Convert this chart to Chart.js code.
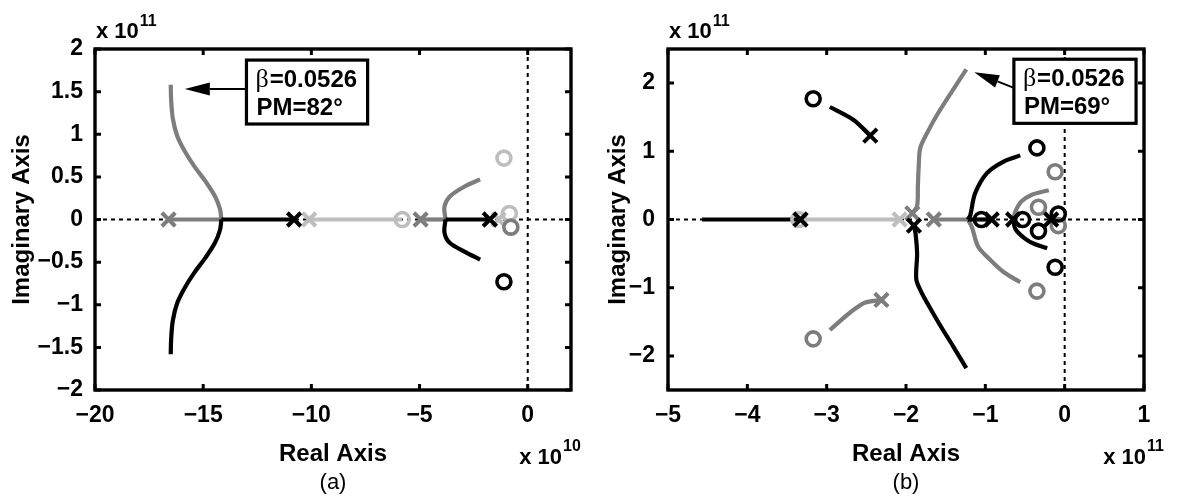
<!DOCTYPE html>
<html>
<head>
<meta charset="utf-8">
<title>Root locus (a) and (b)</title>
<script src="https://cdn.jsdelivr.net/npm/chart.js@4.4.1/dist/chart.umd.min.js"></script>
<style>
  html, body { margin: 0; padding: 0; background: #fff; }
  #wrap { position: relative; width: 1179px; height: 498px; overflow: hidden; }
  .panel { position: absolute; top: 0; height: 498px; }
  #panelA { left: 0; width: 590px; }
  #panelB { left: 590px; width: 589px; }
</style>
</head>
<body>
<div id="wrap">
  <div class="panel" id="panelA"><canvas id="chartA" width="590" height="498"></canvas></div>
  <div class="panel" id="panelB"><canvas id="chartB" width="589" height="498"></canvas></div>
</div>
<script>
// Root locus plots.
// (a): real axis in units of 1e10, imaginary axis in units of 1e11
// (b): both axes in units of 1e11

// --- panel (a) ---
const aXTicks = [-20, -15, -10, -5, 0];
const aXLabels = ["\u221220", "\u221215", "\u221210", "\u22125", "0"];
const aYTicks = [-2, -1.5, -1, -0.5, 0, 0.5, 1, 1.5, 2];
const aYLabels = ["\u22122", "\u22121.5", "\u22121", "\u22120.5", "0", "0.5", "1", "1.5", "2"];

const aGrayAxis = [[-16.6, 0], [-14.16, 0]];
const aGrayCurve = [[-14.16, 0], [-14.22, 0.12], [-14.45, 0.27], [-14.9, 0.45], [-15.4, 0.62],
                    [-15.85, 0.8], [-16.2, 0.98], [-16.4, 1.18], [-16.48, 1.4], [-16.5, 1.58]];
const aBlackAxis = [[-10.8, 0], [-14.16, 0]];
const aBlackCurve = [[-14.16, 0], [-14.22, -0.12], [-14.45, -0.27], [-14.9, -0.45], [-15.4, -0.62],
                     [-15.85, -0.8], [-16.2, -0.98], [-16.4, -1.18], [-16.48, -1.4], [-16.5, -1.58]];
const aLightAxis = [[-10.1, 0], [-5.8, 0]];
const aGray2Axis = [[-4.95, 0], [-3.8, 0]];
const aGray2Curve = [[-3.8, 0], [-3.85, 0.15], [-3.6, 0.27], [-2.9, 0.39], [-2.2, 0.47]];
const aBlack2Axis = [[-1.75, 0], [-3.8, 0]];
const aBlack2Curve = [[-3.8, 0], [-3.85, -0.15], [-3.62, -0.27], [-2.9, -0.38], [-2.2, -0.47]];

const aPolesBlack = [[-10.8, 0], [-1.75, 0]];
const aPolesGray = [[-16.6, 0], [-4.95, 0]];
const aPolesLight = [[-10.1, 0], [-1.35, 0]];
const aZerosBlack = [[-1.1, -0.73]];
const aZerosGray = [[-0.78, -0.09]];
const aZerosLight = [[-5.8, 0], [-0.85, 0.07], [-1.1, 0.72]];

// --- panel (b) ---
const bXTicks = [-5, -4, -3, -2, -1, 0, 1];
const bXLabels = ["\u22125", "\u22124", "\u22123", "\u22122", "\u22121", "0", "1"];
const bYTicks = [-2, -1, 0, 1, 2];
const bYLabels = ["\u22122", "\u22121", "0", "1", "2"];

const bBlackLeft = [[-4.57, 0], [-3.33, 0]];
const bLightLeft = [[-3.33, 0], [-2.08, 0]];
const bGrayUpper = [[-1.92, 0.09], [-1.86, 0.2], [-1.85, 0.5], [-1.84, 0.77], [-1.82, 1.05],
                    [-1.72, 1.3], [-1.6, 1.55], [-1.42, 1.88], [-1.24, 2.2]];
const bBlackLower = [[-1.9, -0.09], [-1.88, -0.2], [-1.86, -0.5], [-1.87, -0.88], [-1.8, -1.08],
                     [-1.72, -1.25], [-1.57, -1.55], [-1.4, -1.87], [-1.24, -2.18]];
const bGrayAxis = [[-1.65, 0], [-1.22, 0]];
const bGrayArc = [[-1.22, 0], [-1.17, -0.11], [-1.09, -0.4], [-0.94, -0.59], [-0.77, -0.77], [-0.56, -0.92]];
const bBlackAxis = [[-1.22, 0], [-0.92, 0]];
const bBlackArc = [[-1.22, 0], [-1.19, 0.06], [-1.13, 0.38], [-0.98, 0.68], [-0.77, 0.85], [-0.56, 0.94]];
const bGraySmall = [[-0.65, 0], [-0.62, 0.12], [-0.55, 0.26], [-0.42, 0.36], [-0.2, 0.43]];
const bBlackSmall = [[-0.65, 0], [-0.62, -0.14], [-0.5, -0.28], [-0.38, -0.36], [-0.22, -0.42]];
const bBlackUL = [[-2.96, 1.65], [-2.66, 1.46], [-2.45, 1.23]];
const bGrayLL = [[-2.96, -1.62], [-2.7, -1.36], [-2.52, -1.22], [-2.31, -1.18]];

const bPolesBlack = [[-3.33, 0], [-1.9, -0.09], [-0.92, 0], [-0.65, 0], [-2.45, 1.23], [-0.17, 0]];
const bPolesGray = [[-1.92, 0.09], [-1.65, 0], [-2.31, -1.18]];
const bPolesLight = [[-2.08, 0]];
const bZerosBlack = [[-3.17, 1.77], [-1.05, 0], [-0.53, 0], [-0.35, 1.05], [-0.33, -0.17], [-0.08, 0.08], [-0.12, -0.7]];
const bZerosGray = [[-3.17, -1.75], [-0.33, 0.18], [-0.08, -0.09], [-0.12, 0.7], [-0.35, -1.05]];
const bZerosLight = [[-3.35, 0]];

const BLACK = "#000000";
const GRAY = "#7d7d7d";
const LIGHT = "#bebebe";
const FONT = "'Liberation Sans', Arial, Helvetica, sans-serif";

function toXY(pts) {
    return pts.map(p => ({ x: p[0], y: p[1] }));
}

function lineSet(pts, color, tension) {
    return {
        data: toXY(pts),
        showLine: true,
        borderColor: color,
        borderWidth: 4.2,
        borderCapStyle: "butt",
        borderJoinStyle: "round",
        pointRadius: 0,
        pointHoverRadius: 0,
        tension: tension || 0,
        fill: false,
        order: 10
    };
}

function markerSet(pts, color, shape, order) {
    const isX = shape === "x";
    return {
        data: toXY(pts),
        showLine: false,
        pointStyle: isX ? "crossRot" : "circle",
        pointRadius: isX ? 9.5 : 7,
        pointHoverRadius: isX ? 9.5 : 7,
        pointBorderWidth: isX ? 4 : 3.6,
        pointBorderColor: color,
        pointBackgroundColor: "rgba(0,0,0,0)",
        order: order
    };
}

// draws dotted zero lines, the boxed note with arrow, frame, inward ticks and titles
function framePlugin(spec) {
    return {
        id: "frame",
        beforeDatasetsDraw(chart) {
            const { ctx, chartArea: a, scales: { x, y } } = chart;
            const x0 = x.getPixelForValue(0);
            const y0 = y.getPixelForValue(0);
            ctx.save();
            ctx.strokeStyle = "#000";
            ctx.lineWidth = 2;
            ctx.setLineDash([4, 4]);
            ctx.beginPath();
            ctx.moveTo(a.left, y0);
            ctx.lineTo(a.right, y0);
            ctx.moveTo(x0, a.top);
            ctx.lineTo(x0, a.bottom);
            ctx.stroke();
            ctx.restore();
        },
        afterDatasetsDraw(chart) {
            const { ctx, scales: { x, y } } = chart;
            const n = spec.note;
            const bx1 = x.getPixelForValue(n.box[0]), by1 = y.getPixelForValue(n.box[1]);
            const bx2 = x.getPixelForValue(n.box[2]), by2 = y.getPixelForValue(n.box[3]);
            const tx = x.getPixelForValue(n.tip[0]), ty = y.getPixelForValue(n.tip[1]);
            const sx = x.getPixelForValue(n.tail[0]), sy = y.getPixelForValue(n.tail[1]);
            const ang = Math.atan2(ty - sy, tx - sx);
            const hl = 25, hw = 6.5;
            const hx = tx - hl * Math.cos(ang), hy = ty - hl * Math.sin(ang);

            ctx.save();
            ctx.strokeStyle = "#000";
            ctx.fillStyle = "#000";
            ctx.lineWidth = 2;
            ctx.beginPath();
            ctx.moveTo(sx, sy);
            ctx.lineTo(hx, hy);
            ctx.stroke();
            ctx.beginPath();
            ctx.moveTo(tx, ty);
            ctx.lineTo(hx + hw * Math.sin(ang), hy - hw * Math.cos(ang));
            ctx.lineTo(hx - hw * Math.sin(ang), hy + hw * Math.cos(ang));
            ctx.closePath();
            ctx.fill();

            ctx.fillStyle = "#fff";
            ctx.fillRect(bx1, by1, bx2 - bx1, by2 - by1);
            ctx.lineWidth = 3.2;
            ctx.strokeRect(bx1, by1, bx2 - bx1, by2 - by1);

            ctx.fillStyle = "#000";
            ctx.textAlign = "left";
            ctx.textBaseline = "alphabetic";
            ctx.font = "26px 'Liberation Serif', 'DejaVu Serif', serif";
            ctx.fillText("\u03b2", bx1 + 9, by1 + 27);
            const bw = ctx.measureText("\u03b2").width;
            ctx.font = "bold 24px " + FONT;
            ctx.fillText("=" + n.beta, bx1 + 10 + bw, by1 + 27);
            ctx.fillText("PM=" + n.pm + "\u00b0", bx1 + 10, by1 + 55);
            ctx.restore();
        },
        afterDraw(chart) {
            const { ctx, chartArea: a, scales: { x, y } } = chart;
            ctx.save();
            ctx.strokeStyle = "#000";
            ctx.lineWidth = 3.4;
            ctx.strokeRect(a.left, a.top, a.right - a.left, a.bottom - a.top);

            ctx.lineWidth = 3;
            ctx.beginPath();
            spec.xTicks.forEach(v => {
                const px = x.getPixelForValue(v);
                ctx.moveTo(px, a.bottom); ctx.lineTo(px, a.bottom - 6);
                ctx.moveTo(px, a.top); ctx.lineTo(px, a.top + 6);
            });
            spec.yTicks.forEach(v => {
                const py = y.getPixelForValue(v);
                ctx.moveTo(a.left, py); ctx.lineTo(a.left + 6, py);
                ctx.moveTo(a.right, py); ctx.lineTo(a.right - 6, py);
            });
            ctx.stroke();

            ctx.fillStyle = "#000";
            // axis titles
            ctx.font = "bold 24px " + FONT;
            ctx.textAlign = "center";
            ctx.textBaseline = "alphabetic";
            ctx.fillText("Real Axis", (a.left + a.right) / 2, 461);
            ctx.save();
            ctx.translate(spec.yTitleX, (a.top + a.bottom) / 2);
            ctx.rotate(-Math.PI / 2);
            ctx.textBaseline = "middle";
            ctx.fillText("Imaginary Axis", 0, 0);
            ctx.restore();

            // exponent labels
            ctx.textAlign = "left";
            ctx.font = "bold 22px " + FONT;
            ctx.fillText("x 10", a.left + 1, 38);
            let w = ctx.measureText("x 10").width;
            ctx.font = "bold 16px " + FONT;
            ctx.fillText(spec.yExp, a.left + 2 + w, 26);

            ctx.font = "bold 22px " + FONT;
            ctx.textAlign = "right";
            ctx.fillText("x 10", spec.xExpRight, 464);
            ctx.font = "bold 16px " + FONT;
            ctx.textAlign = "left";
            ctx.fillText(spec.xExp, spec.xExpRight + 1, 451);

            // caption
            ctx.font = "22px " + FONT;
            ctx.textAlign = "center";
            ctx.textBaseline = "middle";
            ctx.fillText(spec.caption, (a.left + a.right) / 2, 483);
            ctx.restore();
        }
    };
}

function makeChart(canvasId, spec) {
    const tickFont = { family: FONT, size: 23, weight: "bold" };
    return new Chart(document.getElementById(canvasId), {
        type: "scatter",
        data: { datasets: spec.datasets },
        options: {
            responsive: false,
            animation: false,
            events: [],
            layout: { padding: { top: 49, right: spec.padRight, bottom: 0, left: 0 } },
            plugins: {
                legend: { display: false },
                tooltip: { enabled: false }
            },
            scales: {
                x: {
                    type: "linear",
                    min: spec.xRange[0],
                    max: spec.xRange[1],
                    grid: { display: false, drawTicks: false },
                    border: { display: false },
                    afterBuildTicks: s => { s.ticks = spec.xTicks.map(v => ({ value: v })); },
                    afterFit: s => { s.height = 108; },
                    ticks: {
                        font: tickFont,
                        color: "#000",
                        padding: 12,
                        autoSkip: false,
                        maxRotation: 0,
                        callback: v => spec.xLabels[spec.xTicks.indexOf(v)]
                    }
                },
                y: {
                    type: "linear",
                    min: spec.yRange[0],
                    max: spec.yRange[1],
                    grid: { display: false, drawTicks: false },
                    border: { display: false },
                    afterBuildTicks: s => { s.ticks = spec.yTicks.map(v => ({ value: v })); },
                    afterFit: s => { s.width = spec.yAxisWidth; },
                    ticks: {
                        font: tickFont,
                        color: "#000",
                        padding: spec.yTickPad,
                        autoSkip: false,
                        callback: v => spec.yLabels[spec.yTicks.indexOf(v)]
                    }
                }
            }
        },
        plugins: [framePlugin(spec)]
    });
}

makeChart("chartA", {
    xRange: [-20, 2],
    yRange: [-2, 2],
    xTicks: aXTicks, xLabels: aXLabels,
    yTicks: aYTicks, yLabels: aYLabels,
    yAxisWidth: 95,
    yTickPad: 12,
    padRight: 19,
    yTitleX: 22,
    yExp: "11",
    xExp: "10",
    xExpRight: 562,
    caption: "(a)",
    note: { box: [-13.0, 1.87, -7.4, 1.12], tail: [-13.0, 1.53], tip: [-15.85, 1.53], beta: "0.0526", pm: "82" },
    datasets: [
        markerSet(aPolesBlack, BLACK, "x", 1),
        markerSet(aZerosBlack, BLACK, "o", 1),
        markerSet(aPolesGray, GRAY, "x", 2),
        markerSet(aZerosGray, GRAY, "o", 2),
        markerSet(aPolesLight, LIGHT, "x", 3),
        markerSet(aZerosLight, LIGHT, "o", 3),
        lineSet(aBlackAxis, BLACK),
        lineSet(aBlackCurve, BLACK, 0.35),
        lineSet(aBlack2Axis, BLACK),
        lineSet(aBlack2Curve, BLACK, 0.3),
        lineSet(aGrayAxis, GRAY),
        lineSet(aGrayCurve, GRAY, 0.35),
        lineSet(aGray2Axis, GRAY),
        lineSet(aGray2Curve, GRAY, 0.3),
        lineSet(aLightAxis, LIGHT)
    ]
});

makeChart("chartB", {
    xRange: [-5, 1],
    yRange: [-2.5, 2.5],
    xTicks: bXTicks, xLabels: bXLabels,
    yTicks: bYTicks, yLabels: bYLabels,
    yAxisWidth: 78,
    yTickPad: 13,
    padRight: 35,
    yTitleX: 28,
    yExp: "11",
    xExp: "11",
    xExpRight: 556,
    caption: "(b)",
    note: { box: [-0.64, 2.35, 0.9, 1.41], tail: [-0.64, 1.93], tip: [-1.14, 2.16], beta: "0.0526", pm: "69" },
    datasets: [
        markerSet(bPolesBlack, BLACK, "x", 1),
        markerSet(bZerosBlack, BLACK, "o", 1),
        markerSet(bPolesGray, GRAY, "x", 2),
        markerSet(bZerosGray, GRAY, "o", 2),
        markerSet(bPolesLight, LIGHT, "x", 3),
        markerSet(bZerosLight, LIGHT, "o", 3),
        lineSet(bBlackLeft, BLACK),
        lineSet(bBlackLower, BLACK, 0.3),
        lineSet(bBlackAxis, BLACK),
        lineSet(bBlackArc, BLACK, 0.3),
        lineSet(bBlackSmall, BLACK, 0.3),
        lineSet(bBlackUL, BLACK, 0.3),
        lineSet(bGrayUpper, GRAY, 0.3),
        lineSet(bGrayAxis, GRAY),
        lineSet(bGrayArc, GRAY, 0.3),
        lineSet(bGraySmall, GRAY, 0.3),
        lineSet(bGrayLL, GRAY, 0.3),
        lineSet(bLightLeft, LIGHT)
    ]
});
</script>
</body>
</html>
